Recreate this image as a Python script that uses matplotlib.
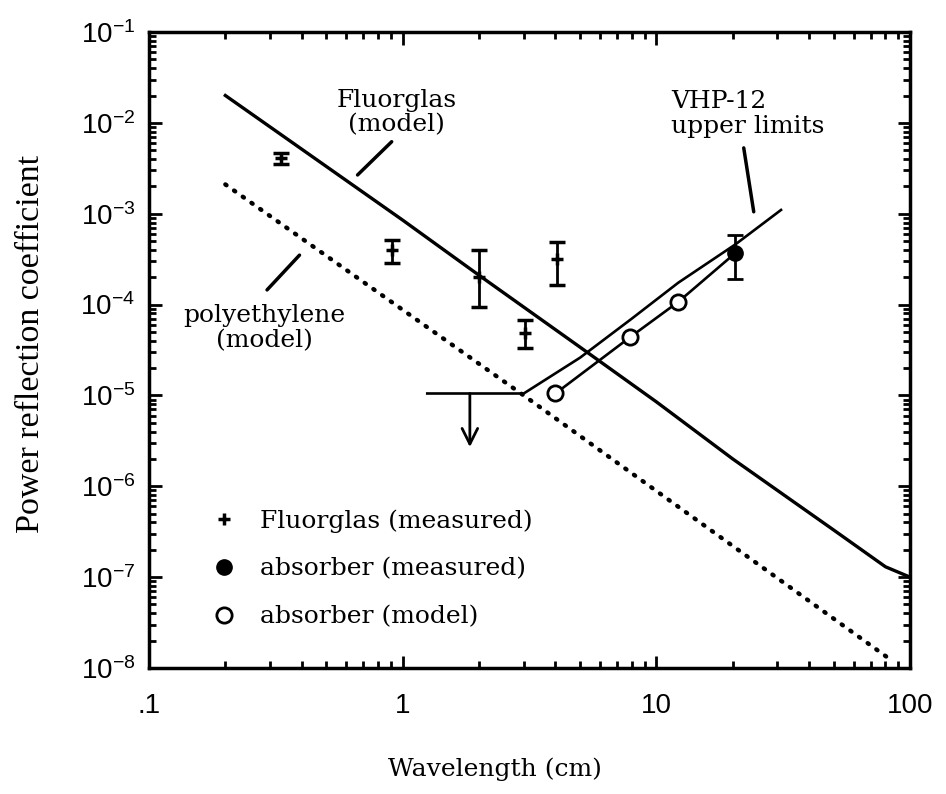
import matplotlib
matplotlib.use("Agg")
import matplotlib.pyplot as plt
from matplotlib.lines import Line2D
from matplotlib.ticker import LogLocator, FixedLocator, FixedFormatter, NullFormatter

plt.rcParams['mathtext.fontset'] = 'custom'
plt.rcParams['mathtext.rm'] = 'Liberation Sans'
plt.rcParams['mathtext.it'] = 'Liberation Sans'

# Fluorglas model (solid)
fluor_model_x = [0.2, 1, 2, 5, 10, 20, 50, 80, 100]
fluor_model_y = [2.0e-2, 8.5e-4, 2.1e-4, 3.4e-5, 8.5e-6, 2.0e-6, 3.3e-7, 1.3e-7, 1.0e-7]

# polyethylene model (dotted)
poly_x = [0.2, 3, 85]
poly_y = [2.1e-3, 1.0e-5, 1.2e-8]

# VHP-12 upper limits
vhp_x = [1.25, 3.0, 5.0, 8.0, 12.2, 20.5, 31]
vhp_y = [1.05e-5, 1.05e-5, 2.6e-5, 7.0e-5, 1.74e-4, 4.6e-4, 1.1e-3]

# absorber model (open circles) + measured (filled)
abs_model_x = [4.0, 7.9, 12.2]
abs_model_y = [1.05e-5, 4.4e-5, 1.07e-4]
abs_meas_x = [20.5]
abs_meas_y = [3.7e-4]
abs_meas_lo = [1.9e-4]
abs_meas_hi = [5.9e-4]

# Fluorglas measured with error bars
fm_x = [0.33, 0.91, 2.0, 3.03, 4.06]
fm_y = [4.1e-3, 4.0e-4, 2.0e-4, 4.9e-5, 3.2e-4]
fm_lo = [3.5e-3, 2.9e-4, 9.3e-5, 3.3e-5, 1.66e-4]
fm_hi = [4.7e-3, 5.1e-4, 4.0e-4, 6.7e-5, 4.9e-4]

# upper-limit arrow
arrow_x = 1.84
arrow_y = [1.05e-5, 2.7e-6]

xticks = [0.1, 1, 10, 100]
xtick_labels = ['.1', '1', '10', '100']
yticks = [1e-8, 1e-7, 1e-6, 1e-5, 1e-4, 1e-3, 1e-2, 1e-1]
ytick_labels = ['$10^{-8}$', '$10^{-7}$', '$10^{-6}$', '$10^{-5}$',
                '$10^{-4}$', '$10^{-3}$', '$10^{-2}$', '$10^{-1}$']

serif = 'DejaVu Serif'

fig = plt.figure(figsize=(9.46, 7.94), dpi=100)
ax = fig.add_axes([0.1575, 0.1587, 0.8045, 0.8010])
ax.set_xscale('log')
ax.set_yscale('log')
ax.set_xlim(0.1, 100)
ax.set_ylim(1e-8, 1e-1)

# model lines
ax.plot(fluor_model_x, fluor_model_y, color='black', lw=2.4)
ax.plot(poly_x, poly_y, color='black', lw=3.2, linestyle=(0, (0.3, 2.1)),
        dash_capstyle='round')
ax.plot(vhp_x, vhp_y, color='black', lw=1.9)

# absorber
abs_line_x = abs_model_x + abs_meas_x
abs_line_y = abs_model_y + abs_meas_y
ax.plot(abs_line_x, abs_line_y, color='black', lw=1.9, zorder=3)
ax.plot(abs_model_x, abs_model_y, 'o', ms=11, mfc='white', mec='black', mew=2, zorder=4)
ax.errorbar(abs_meas_x, abs_meas_y,
            yerr=[[y - l for y, l in zip(abs_meas_y, abs_meas_lo)],
                  [h - y for y, h in zip(abs_meas_y, abs_meas_hi)]],
            fmt='o', ms=11, mfc='black', mec='black', ecolor='black',
            elinewidth=2, capsize=6, capthick=2, zorder=4)

# Fluorglas measured
ax.errorbar(fm_x, fm_y,
            yerr=[[y - l for y, l in zip(fm_y, fm_lo)],
                  [h - y for y, h in zip(fm_y, fm_hi)]],
            fmt='+', ms=9, mew=2.5, color='black', ecolor='black',
            elinewidth=2, capsize=6, capthick=2, zorder=4)

# down arrow for upper limit
ax.annotate('', xy=(arrow_x, arrow_y[1]), xytext=(arrow_x, arrow_y[0]),
            arrowprops=dict(arrowstyle='->', color='black', lw=2,
                            mutation_scale=28, shrinkA=0, shrinkB=0))

# labels with leader lines
lead = dict(arrowstyle='-', color='black', lw=2.5, shrinkA=0, shrinkB=0)
ax.annotate('', xy=(0.664, 2.67e-3), xytext=(0.905, 6.2e-3), arrowprops=lead)
ax.annotate('', xy=(0.292, 1.45e-4), xytext=(0.392, 3.5e-4), arrowprops=lead)
ax.annotate('', xy=(24.2, 1.05e-3), xytext=(22.1, 5.3e-3), arrowprops=lead)

ax.text(0.946, 1.3e-2, 'Fluorglas\n(model)', ha='center', va='center',
        family=serif, fontsize=18, linespacing=1.1)
ax.text(0.285, 5.5e-5, 'polyethylene\n(model)', ha='center', va='center',
        family=serif, fontsize=18, linespacing=1.1)
ax.text(11.4, 1.25e-2, 'VHP-12\nupper limits', ha='left', va='center',
        family=serif, fontsize=18, linespacing=1.1)

# legend
handles = [
    Line2D([], [], ls='none', marker='+', ms=9, mew=2.5, color='black'),
    Line2D([], [], ls='none', marker='o', ms=11, mfc='black', mec='black'),
    Line2D([], [], ls='none', marker='o', ms=11, mfc='white', mec='black', mew=2),
]
labels = ['Fluorglas (measured)', 'absorber (measured)', 'absorber (model)']
ax.legend(handles, labels, loc='upper left', bbox_to_anchor=(0.082, 0.25),
          frameon=False, handlelength=1.0, handletextpad=0.95,
          labelspacing=1.0, borderpad=0, borderaxespad=0,
          prop=dict(family=serif, size=18))

# ticks
ax.xaxis.set_major_locator(FixedLocator(xticks))
ax.xaxis.set_major_formatter(FixedFormatter(xtick_labels))
ax.xaxis.set_minor_locator(LogLocator(base=10, subs=range(2, 10), numticks=20))
ax.xaxis.set_minor_formatter(NullFormatter())
ax.yaxis.set_major_locator(FixedLocator(yticks))
ax.yaxis.set_major_formatter(FixedFormatter(ytick_labels))
ax.yaxis.set_minor_locator(LogLocator(base=10, subs=range(2, 10), numticks=20))
ax.yaxis.set_minor_formatter(NullFormatter())

ax.tick_params(which='both', direction='in', top=True, right=True, width=2)
ax.tick_params(which='major', length=9, labelsize=20)
ax.tick_params(axis='y', which='major', pad=10)
ax.tick_params(axis='x', which='major', pad=18)
ax.tick_params(which='minor', length=5)
for lab in ax.get_xticklabels() + ax.get_yticklabels():
    lab.set_family('Liberation Sans')
for sp in ax.spines.values():
    sp.set_linewidth(2.5)

ax.set_xlabel('Wavelength (cm)', family=serif, fontsize=18)
ax.xaxis.set_label_coords(0.455, -0.14)
ax.set_ylabel('Power reflection coefficient', family='Liberation Serif',
              fontsize=24.5)
ax.yaxis.set_label_coords(-0.135, 0.51)

fig.savefig('out.png', dpi=100)
